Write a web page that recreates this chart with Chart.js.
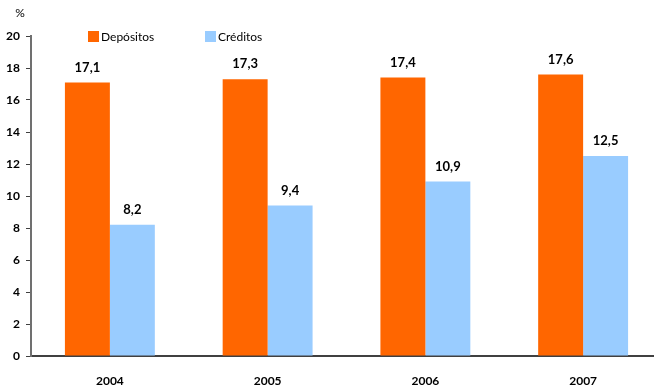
<!DOCTYPE html>
<html>
<head>
<meta charset="utf-8">
<script src="https://cdn.jsdelivr.net/npm/chart.js@4/dist/chart.umd.min.js"></script>
<style>
  body { margin: 0; overflow: hidden; background: #fff; }
  #wrap { width: 662px; height: 388px; position: relative; }
</style>
</head>
<body>
<div id="wrap"><canvas id="bars"></canvas></div>
<script>
const years = ['2004', '2005', '2006', '2007'];
const depositos = [17.1, 17.3, 17.4, 17.6];
const creditos = [8.2, 9.4, 10.9, 12.5];
const yTicks = [0, 2, 4, 6, 8, 10, 12, 14, 16, 18, 20];

const orange = '#ff6600';
const blue = '#99ccff';
const fontFam = 'Lato, "Open Sans", sans-serif';

// values over the bars, decimal comma
const valueLabels = {
    id: 'valueLabels',
    afterDatasetsDraw(chart) {
        const ctx = chart.ctx;
        ctx.save();
        ctx.font = 'bold 13px ' + fontFam;
        ctx.fillStyle = '#000';
        ctx.textAlign = 'center';
        ctx.textBaseline = 'middle';
        chart.data.datasets.forEach((ds, i) => {
            chart.getDatasetMeta(i).data.forEach((bar, j) => {
                ctx.fillText(ds.data[j].toFixed(1).replace('.', ','), bar.x, bar.y - 15);
            });
        });
        ctx.restore();
    }
};

// legend inside the plot + the % unit
const sideText = {
    id: 'sideText',
    afterDraw(chart) {
        const ctx = chart.ctx;
        ctx.save();
        ctx.font = '12px ' + fontFam;
        ctx.textBaseline = 'middle';
        ctx.fillStyle = '#000';
        ctx.textAlign = 'center';
        ctx.fillText('%', 20, 13);
        ctx.textAlign = 'left';
        let x = 88;
        chart.data.datasets.forEach(ds => {
            ctx.fillStyle = ds.backgroundColor;
            ctx.fillRect(x, 31, 11, 11);
            ctx.fillStyle = '#000';
            ctx.fillText(ds.label, x + 13, 37);
            x += 117;
        });
        ctx.restore();
    }
};

new Chart(document.getElementById('bars'), {
    type: 'bar',
    data: {
        labels: years,
        datasets: [
            { label: 'Depósitos', data: depositos, backgroundColor: orange },
            { label: 'Créditos', data: creditos, backgroundColor: blue }
        ]
    },
    options: {
        responsive: true,
        maintainAspectRatio: false,
        animation: false,
        layout: { padding: { top: 36, left: 0, right: 0, bottom: 0 } },
        datasets: { bar: { categoryPercentage: 0.57, barPercentage: 1 } },
        plugins: { legend: { display: false }, tooltip: { enabled: false } },
        scales: {
            x: {
                grid: { display: false },
                border: { color: '#404040', width: 2 },
                ticks: { color: '#000', font: { family: fontFam, weight: 'bold', size: 12 }, padding: 10 },
                afterFit(s) { s.height = 32; }
            },
            y: {
                min: 0,
                max: 20,
                afterBuildTicks(s) { s.ticks = yTicks.map(v => ({ value: v })); },
                grid: { drawOnChartArea: false, tickLength: 5, color: '#404040' },
                border: { color: '#707070', width: 2 },
                ticks: { color: '#000', font: { family: fontFam, weight: 'bold', size: 12 }, padding: 6 },
                afterFit(s) { s.width = 31; }
            }
        }
    },
    plugins: [valueLabels, sideText]
});
</script>
</body>
</html>
